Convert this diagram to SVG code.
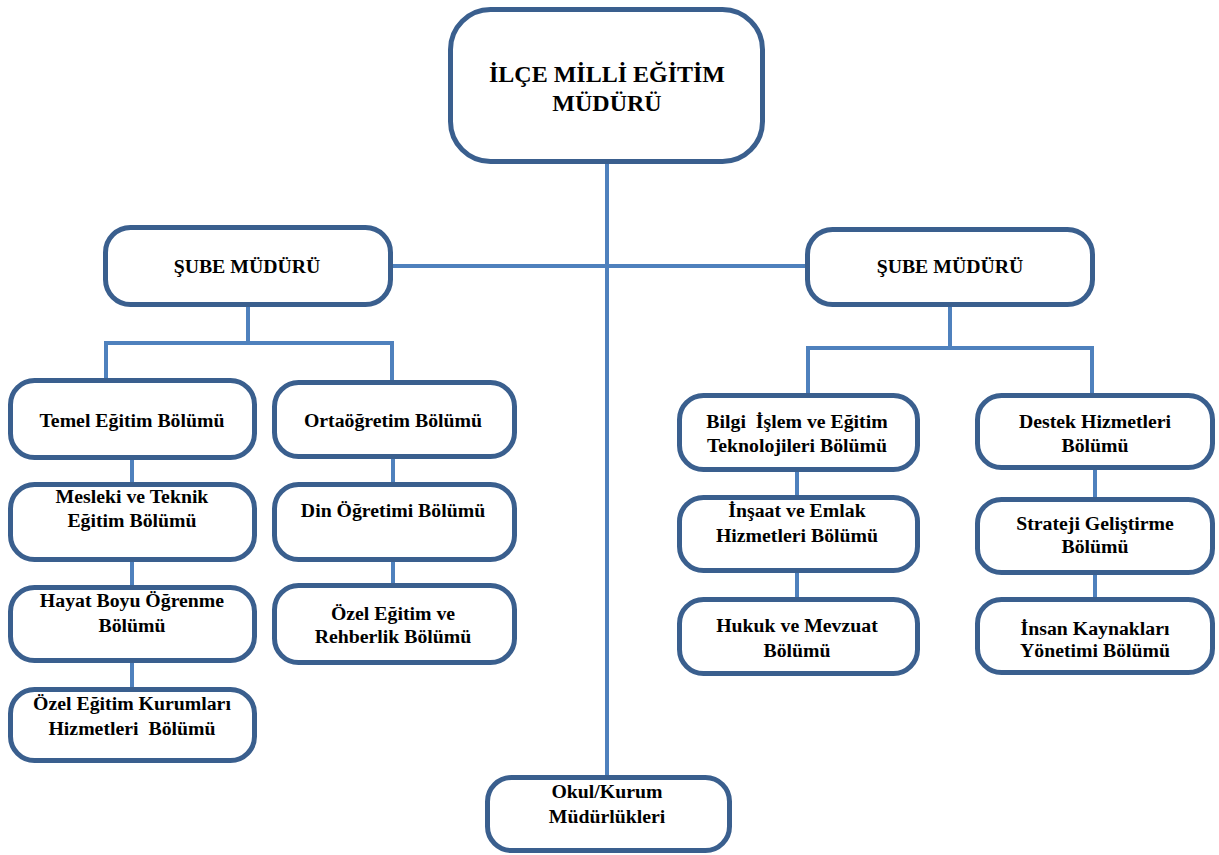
<svg xmlns="http://www.w3.org/2000/svg" width="1219" height="855" viewBox="0 0 1219 855">
<style>
.box{fill:#fff;stroke:#3A5F8E;stroke-width:5}
.t{font-family:'Liberation Serif','DejaVu Serif',serif;font-weight:700;font-size:19.8px;fill:#000;text-anchor:middle}
.big{font-size:24px}
.c{stroke:#4F81BD;stroke-width:4;fill:none}
</style>
<rect width="1219" height="855" fill="#fff"/>
<g id="connectors">
<path class="c" d="M607 164V777"/>
<path class="c" d="M393 266H807"/>
<path class="c" d="M248 307V343M106 343H392M106 341V380M392 341V382"/>
<path class="c" d="M132 460V484M132 562V587M132 663V689"/>
<path class="c" d="M393 459V484M393 562V585"/>
<path class="c" d="M950 307V348M808 348H1092M808 346V395M1092 346V395"/>
<path class="c" d="M797 472V497M797 573V599"/>
<path class="c" d="M1095 470V499M1095 575V599"/>
</g>
<g id="n-mudur"><rect class="box" x="450.5" y="9.5" width="312" height="152" rx="40"/><text class="t big" x="607" y="82">İLÇE MİLLİ EĞİTİM</text><text class="t big" x="607" y="111">MÜDÜRÜ</text></g>
<g id="n-sube-l"><rect class="box" x="105.5" y="227.5" width="285" height="77" rx="25"/><text class="t" x="247" y="273">ŞUBE MÜDÜRÜ</text></g>
<g id="n-sube-r"><rect class="box" x="807.5" y="229.5" width="285" height="75" rx="25"/><text class="t" x="950" y="273">ŞUBE MÜDÜRÜ</text></g>
<g id="n-temel"><rect class="box" x="10.5" y="380.5" width="244" height="77" rx="24"/><text class="t" x="132" y="427">Temel Eğitim Bölümü</text></g>
<g id="n-mesleki"><rect class="box" x="10.5" y="484.5" width="244" height="75" rx="24"/><text class="t" x="132" y="503">Mesleki ve Teknik</text><text class="t" x="132" y="527">Eğitim Bölümü</text></g>
<g id="n-hayat"><rect class="box" x="10.5" y="587.5" width="244" height="73" rx="24"/><text class="t" x="132" y="607">Hayat Boyu Öğrenme</text><text class="t" x="132" y="632">Bölümü</text></g>
<g id="n-ozelkurum"><rect class="box" x="10.5" y="689.5" width="244" height="71" rx="24"/><text class="t" x="132" y="710">Özel Eğitim Kurumları</text><text class="t" x="132" y="735" xml:space="preserve">Hizmetleri  Bölümü</text></g>
<g id="n-orta"><rect class="box" x="274.5" y="382.5" width="240" height="74" rx="24"/><text class="t" x="393" y="427">Ortaöğretim Bölümü</text></g>
<g id="n-din"><rect class="box" x="274.5" y="484.5" width="240" height="75" rx="24"/><text class="t" x="393" y="517">Din Öğretimi Bölümü</text></g>
<g id="n-ozelrehber"><rect class="box" x="274.5" y="585.5" width="240" height="77" rx="24"/><text class="t" x="393" y="620">Özel Eğitim ve</text><text class="t" x="393" y="643">Rehberlik Bölümü</text></g>
<g id="n-bilgi"><rect class="box" x="679.5" y="395.5" width="238" height="74" rx="24"/><text class="t" x="797" y="428" xml:space="preserve">Bilgi  İşlem ve Eğitim</text><text class="t" x="797" y="452">Teknolojileri Bölümü</text></g>
<g id="n-insaat"><rect class="box" x="679.5" y="497.5" width="238" height="73" rx="24"/><text class="t" x="797" y="517">İnşaat ve Emlak</text><text class="t" x="797" y="542">Hizmetleri Bölümü</text></g>
<g id="n-hukuk"><rect class="box" x="679.5" y="599.5" width="238" height="74" rx="24"/><text class="t" x="797" y="632">Hukuk ve Mevzuat</text><text class="t" x="797" y="657">Bölümü</text></g>
<g id="n-destek"><rect class="box" x="977.5" y="395.5" width="235" height="72" rx="24"/><text class="t" x="1095" y="428">Destek Hizmetleri</text><text class="t" x="1095" y="452">Bölümü</text></g>
<g id="n-strateji"><rect class="box" x="977.5" y="499.5" width="235" height="73" rx="24"/><text class="t" x="1095" y="530">Strateji Geliştirme</text><text class="t" x="1095" y="553">Bölümü</text></g>
<g id="n-insan"><rect class="box" x="977.5" y="599.5" width="235" height="73" rx="24"/><text class="t" x="1095" y="635">İnsan Kaynakları</text><text class="t" x="1095" y="657">Yönetimi Bölümü</text></g>
<g id="n-okul"><rect class="box" x="487.5" y="777.5" width="242" height="73" rx="24"/><text class="t" x="607" y="798">Okul/Kurum</text><text class="t" x="607" y="823">Müdürlükleri</text></g>
</svg>
